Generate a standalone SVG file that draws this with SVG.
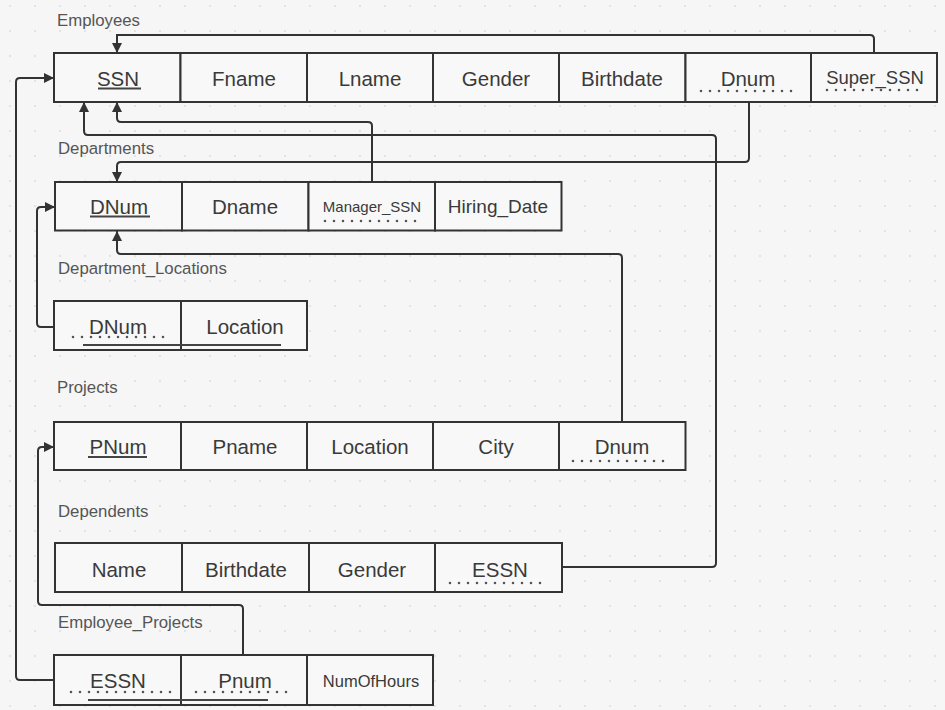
<svg xmlns="http://www.w3.org/2000/svg" width="945" height="710" viewBox="0 0 945 710">
<style>
.bg{fill:#f6f6f6}
.cell{fill:#f8f8f8;stroke:#333;stroke-width:2}
.t{font-family:"Liberation Sans",Arial,sans-serif;font-size:20.5px;fill:#3a3a3a;text-anchor:middle}
.lbl{font-family:"Liberation Sans",Arial,sans-serif;font-size:16.8px;fill:#555}
.u{stroke:#444;stroke-width:2.2;fill:none}
.d{stroke:#555;stroke-width:2.6;stroke-dasharray:0 9;stroke-linecap:round;fill:none}
.c{fill:none;stroke:#333;stroke-width:2}
</style>
<defs>
<pattern id="grid" width="25" height="25" patternUnits="userSpaceOnUse" x="8" y="4">
<circle cx="2" cy="2" r="1" fill="#dddddd"/>
</pattern>
<marker id="ah" viewBox="0 0 10 10" refX="10" refY="5" markerWidth="10" markerHeight="10" markerUnits="userSpaceOnUse" orient="auto">
<path d="M0,0 L10,5 L0,10 z" fill="#333"/>
</marker>
</defs>
<rect class="bg" x="0" y="0" width="945" height="710"/>
<rect fill="url(#grid)" x="0" y="0" width="945" height="710"/>

<g id="employees">
<text class="lbl" x="57" y="26">Employees</text>
<rect class="cell" x="54" y="53" width="126.5" height="49"/>
<rect class="cell" x="180.5" y="53" width="126.5" height="49"/>
<rect class="cell" x="307" y="53" width="126" height="49"/>
<rect class="cell" x="433" y="53" width="126" height="49"/>
<rect class="cell" x="559" y="53" width="126.5" height="49"/>
<rect class="cell" x="685.5" y="53" width="125.5" height="49"/>
<rect class="cell" x="811" y="53" width="126" height="49"/>
<text class="t" x="118" y="86">SSN</text>
<text class="t" x="244" y="86">Fname</text>
<text class="t" x="370" y="86">Lname</text>
<text class="t" x="496" y="86">Gender</text>
<text class="t" x="622" y="86">Birthdate</text>
<text class="t" x="748" y="86">Dnum</text>
<text class="t" x="875" y="84" style="font-size:18.5px">Super_SSN</text>
<line class="u" x1="98" y1="88.5" x2="141" y2="88.5"/>
<line class="d" x1="701" y1="91" x2="799" y2="91"/>
<line class="d" x1="827" y1="90" x2="925" y2="90"/>
</g>

<g id="departments">
<text class="lbl" x="58" y="154">Departments</text>
<rect class="cell" x="55" y="182" width="127" height="48.5"/>
<rect class="cell" x="182" y="182" width="126.5" height="48.5"/>
<rect class="cell" x="308.5" y="182" width="126.5" height="48.5"/>
<rect class="cell" x="435" y="182" width="126.5" height="48.5"/>
<text class="t" x="119" y="214">DNum</text>
<text class="t" x="245" y="214">Dname</text>
<text class="t" x="372" y="212" style="font-size:15px">Manager_SSN</text>
<text class="t" x="498" y="213" style="font-size:19px">Hiring_Date</text>
<line class="u" x1="90" y1="216.5" x2="150" y2="216.5"/>
<line class="d" x1="325" y1="221" x2="424" y2="221"/>
</g>

<g id="department_locations">
<text class="lbl" x="58" y="274">Department_Locations</text>
<rect class="cell" x="54" y="301" width="127" height="49"/>
<rect class="cell" x="181" y="301" width="126" height="49"/>
<text class="t" x="118" y="334">DNum</text>
<text class="t" x="245" y="334">Location</text>
<line class="d" x1="73" y1="337" x2="171" y2="337"/>
<line class="u" x1="83" y1="345" x2="281" y2="345"/>
</g>

<g id="projects">
<text class="lbl" x="57" y="393">Projects</text>
<rect class="cell" x="54" y="422" width="127" height="48"/>
<rect class="cell" x="181" y="422" width="126" height="48"/>
<rect class="cell" x="307" y="422" width="126" height="48"/>
<rect class="cell" x="433" y="422" width="126" height="48"/>
<rect class="cell" x="559" y="422" width="126.5" height="48"/>
<text class="t" x="118" y="454">PNum</text>
<text class="t" x="245" y="454">Pname</text>
<text class="t" x="370" y="454">Location</text>
<text class="t" x="496" y="454">City</text>
<text class="t" x="622" y="454">Dnum</text>
<line class="u" x1="88" y1="457" x2="147" y2="457"/>
<line class="d" x1="573" y1="461" x2="672" y2="461"/>
</g>

<g id="dependents">
<text class="lbl" x="58" y="517">Dependents</text>
<rect class="cell" x="55" y="543" width="127" height="49"/>
<rect class="cell" x="182" y="543" width="127" height="49"/>
<rect class="cell" x="309" y="543" width="126" height="49"/>
<rect class="cell" x="435" y="543" width="127" height="49"/>
<text class="t" x="119" y="577">Name</text>
<text class="t" x="246" y="577">Birthdate</text>
<text class="t" x="372" y="577">Gender</text>
<text class="t" x="500" y="577">ESSN</text>
<line class="d" x1="450" y1="583" x2="549" y2="583"/>
</g>

<g id="employee_projects">
<text class="lbl" x="58" y="628">Employee_Projects</text>
<rect class="cell" x="54" y="655" width="127" height="50"/>
<rect class="cell" x="181" y="655" width="126" height="50"/>
<rect class="cell" x="307" y="655" width="126" height="50"/>
<text class="t" x="118" y="688">ESSN</text>
<text class="t" x="245" y="688">Pnum</text>
<text class="t" x="371" y="687" style="font-size:16.5px">NumOfHours</text>
<line class="d" x1="71" y1="692" x2="171" y2="692"/>
<line class="d" x1="196" y1="692" x2="295" y2="692"/>
<line class="u" x1="88" y1="700" x2="268" y2="700"/>
</g>

<g id="connectors">
<path class="c" marker-end="url(#ah)" d="M874,53 V39 Q874,35 870,35 H117 V53"/>
<path class="c" marker-end="url(#ah)" d="M372,182 V126 Q372,122 368,122 H121 Q117,122 117,118 V102"/>
<path class="c" marker-end="url(#ah)" d="M562,567 H712 Q716,567 716,563 V139 Q716,135 712,135 H88 Q84,135 84,131 V102"/>
<path class="c" marker-end="url(#ah)" d="M749,102 V158 Q749,162 745,162 H121 Q117,162 117,166 V182"/>
<path class="c" marker-end="url(#ah)" d="M54,327 H41 Q37,327 37,323 V211 Q37,207 41,207 H55"/>
<path class="c" marker-end="url(#ah)" d="M622,422 V258 Q622,254 618,254 H121 Q117,254 117,250 V231"/>
<path class="c" marker-end="url(#ah)" d="M243,655 V609 Q243,605 239,605 H42 Q38,605 38,601 V451 Q38,447 42,447 H54"/>
<path class="c" marker-end="url(#ah)" d="M54,680 H20 Q16,680 16,676 V82 Q16,78 20,78 H54"/>
</g>
</svg>
